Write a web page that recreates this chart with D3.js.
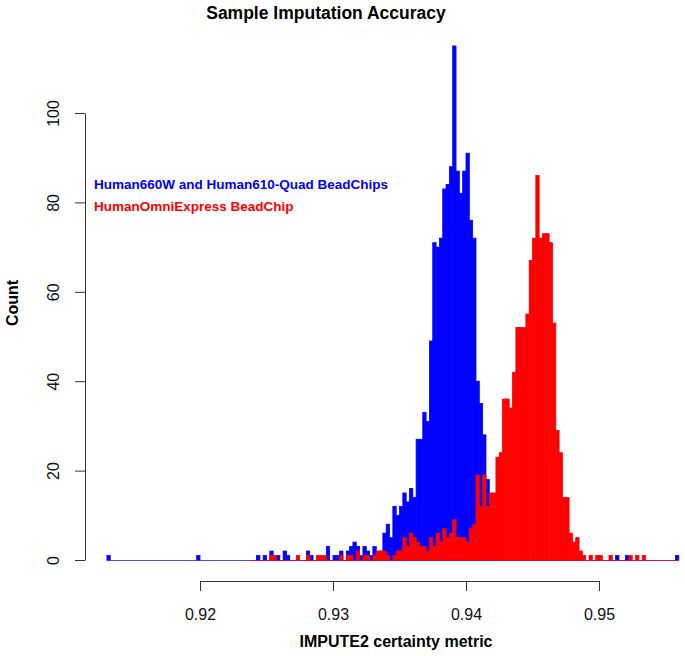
<!DOCTYPE html>
<html>
<head>
<meta charset="utf-8">
<script src="https://cdn.jsdelivr.net/npm/d3@7"></script>
<style>
  body { margin: 0; background: #fff; }
  text { font-family: "Liberation Sans", Arial, Helvetica, sans-serif; }
</style>
</head>
<body>
<div id="chart"></div>
<script>
// histogram bins (width 0.00025), counts
const binWidth = 0.00025;

// Human660W and Human610-Quad BeadChips, first bin starts at 0.913
const blueStart = 0.913;
const blueCounts = [
  1, 0, 0, 0, 0, 0, 0, 0, 0, 0,
  0, 0, 0, 0, 0, 0, 0, 0, 0, 0,
  0, 0, 0, 0, 0, 0, 0, 1, 0, 0,
  0, 0, 0, 0, 0, 0, 0, 0, 0, 0,
  0, 0, 0, 0, 0, 1, 0, 1, 0, 2,
  0, 1, 0, 2, 1, 0, 0, 0, 0, 0,
  2, 1, 0, 0, 0, 0, 3, 0, 1, 1,
  2, 0, 2, 3, 4, 3, 1, 3, 2, 1,
  3, 1, 2, 6, 8, 5, 12, 10, 12, 15,
  13, 16, 14, 27, 27, 33, 31, 49, 71, 70,
  72, 83, 84, 88, 115, 87, 82, 87, 91, 76,
  72, 40, 35, 28, 18, 8, 3, 0, 0, 0,
  0, 0, 0, 0, 0, 0, 0, 0, 0, 0,
  0, 0, 0, 0, 0, 0, 0, 0, 0, 0,
  0, 0, 0, 0, 0, 0, 0, 0, 0, 0,
  0, 0, 0, 1, 0, 0, 1, 0, 0, 0,
  0, 0, 0, 0, 0, 0, 0, 0, 0, 0,
  0, 1
];

// HumanOmniExpress BeadChip, first bin starts at 0.92375
const redStart = 0.92375;
const redCounts = [
  0, 0, 0, 0, 0, 0, 1, 1, 0, 0,
  0, 0, 0, 0, 1, 0, 0, 1, 0, 0,
  1, 1, 1, 0, 0, 0, 0, 1, 0, 1,
  1, 0, 2, 0, 1, 1, 0, 1, 2, 2,
  2, 1, 0, 1, 2, 2, 5, 3, 6, 5,
  4, 3, 3, 2, 5, 3, 6, 4, 7, 5,
  6, 9, 5, 5, 5, 4, 7, 8, 19, 12,
  19, 12, 15, 15, 23, 24, 36, 36, 34, 42,
  52, 52, 52, 55, 67, 72, 86, 72, 73, 73,
  71, 53, 29, 24, 14, 14, 6, 4, 5, 2,
  1, 0, 1, 0, 1, 1, 0, 0, 1, 0,
  0, 0, 0, 0, 1, 0, 1, 0, 1, 0,
  0, 0, 0, 0, 0, 0, 0, 0, 0
];

const xTicks = [0.92, 0.93, 0.94, 0.95];
const yTicks = [0, 20, 40, 60, 80, 100];
const seriesNames = ['Human660W and Human610-Quad BeadChips', 'HumanOmniExpress BeadChip'];
const seriesColors = ['#0000ff', '#ff0000'];

const width = 685, height = 656;

const svg = d3.select('#chart')
  .append('svg')
  .attr('width', width)
  .attr('height', height);

svg.append('rect').attr('width', width).attr('height', height).attr('fill', '#fff');

const x = d3.scaleLinear().domain([0.92, 0.95]).range([200, 599]);
const y = d3.scaleLinear().domain([0, 100]).range([560, 113]);

function toBins(start, counts) {
  return counts.map((c, i) => ({ x0: start + i * binWidth, x1: start + (i + 1) * binWidth, count: c }));
}

// blue first, red drawn over it
[[blueStart, blueCounts], [redStart, redCounts]].forEach(([start, counts], s) => {
  const bins = toBins(start, counts);
  const g = svg.append('g');
  g.selectAll('rect')
    .data(bins.filter(d => d.count > 0))
    .enter()
    .append('rect')
    .attr('x', d => x(d.x0))
    .attr('y', d => y(d.count))
    .attr('width', d => x(d.x1) - x(d.x0))
    .attr('height', d => y(0) - y(d.count))
    .attr('fill', seriesColors[s])
    .attr('stroke', seriesColors[s])
    .attr('stroke-width', 0.8);
  // empty bins show up as a line along zero
  g.append('line')
    .attr('x1', x(bins[0].x0))
    .attr('x2', x(bins[bins.length - 1].x1))
    .attr('y1', y(0) + 0.5)
    .attr('y2', y(0) + 0.5)
    .attr('stroke', seriesColors[s])
    .attr('stroke-opacity', 0.7)
    .attr('stroke-width', 1.2);
});

// x axis
const xAxis = svg.append('g')
  .attr('transform', 'translate(0,581)')
  .call(d3.axisBottom(x).tickValues(xTicks).tickFormat(d3.format('.2f')).tickSize(10).tickSizeOuter(0).tickPadding(18));
xAxis.selectAll('text').attr('font-size', 16).attr('fill', '#111');
xAxis.selectAll('line, path').attr('stroke', '#333');

// y axis
const yAxis = svg.append('g')
  .attr('transform', 'translate(85,0)')
  .call(d3.axisLeft(y).tickValues(yTicks).tickSize(10).tickSizeOuter(0));
yAxis.selectAll('text')
  .attr('transform', 'rotate(-90)')
  .attr('x', 0)
  .attr('y', -26)
  .attr('dy', 0)
  .attr('text-anchor', 'middle')
  .attr('font-size', 16)
  .attr('fill', '#111');
yAxis.selectAll('line, path').attr('stroke', '#333');

// titles
svg.append('text')
  .attr('x', 326).attr('y', 19)
  .attr('text-anchor', 'middle')
  .attr('font-size', 17.5).attr('font-weight', 'bold')
  .text('Sample Imputation Accuracy');

svg.append('text')
  .attr('x', 396).attr('y', 647)
  .attr('text-anchor', 'middle')
  .attr('font-size', 16).attr('font-weight', 'bold')
  .text('IMPUTE2 certainty metric');

svg.append('text')
  .attr('transform', 'translate(18,303) rotate(-90)')
  .attr('text-anchor', 'middle')
  .attr('font-size', 16).attr('font-weight', 'bold')
  .text('Count');

// legend text
seriesNames.forEach((name, i) => {
  svg.append('text')
    .attr('x', 94).attr('y', 189 + i * 22)
    .attr('font-size', 13.5).attr('font-weight', 'bold')
    .attr('fill', seriesColors[i])
    .text(name);
});
</script>
</body>
</html>
